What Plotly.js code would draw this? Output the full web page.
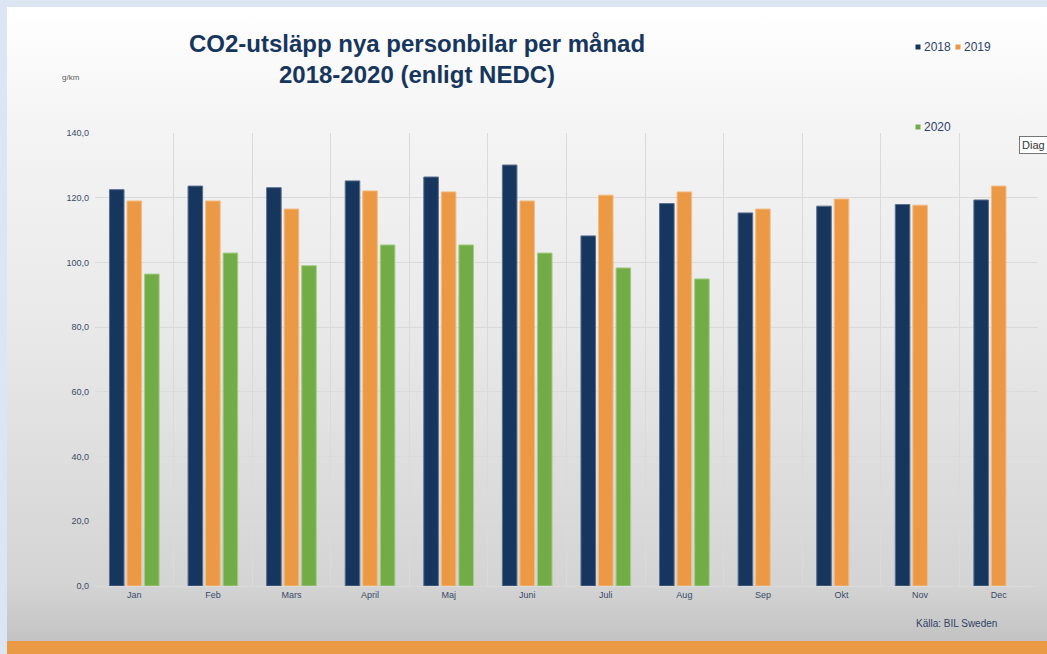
<!DOCTYPE html>
<html>
<head>
<meta charset="utf-8">
<script src="https://cdn.plot.ly/plotly-3.0.1.min.js"></script>
<style>
  html, body { margin: 0; padding: 0; width: 1047px; height: 654px; overflow: hidden; background: #dce6f2; }
  #card { position: absolute; left: 7px; top: 7px; width: 1040px; height: 634px;
    background: linear-gradient(to bottom, #ffffff 0%, #f4f4f4 19%, #e9e9e9 50%, #d4d4d4 91%, #c3c3c3 100%); }
  #strip { position: absolute; left: 7px; top: 641px; width: 1040px; height: 13px; background: #ea9945; }
  #chart { position: absolute; left: 0; top: 0; width: 1047px; height: 654px; }
</style>
</head>
<body>
<div id="card"></div>
<div id="strip"></div>
<div id="chart"></div>
<script>
const months = ['Jan', 'Feb', 'Mars', 'April', 'Maj', 'Juni', 'Juli', 'Aug', 'Sep', 'Okt', 'Nov', 'Dec'];
const values2018 = [122.5, 123.6, 123.1, 125.2, 126.4, 130.1, 108.2, 118.2, 115.3, 117.4, 117.9, 119.3];
const values2019 = [119.0, 119.0, 116.5, 122.1, 121.8, 119.0, 120.8, 121.8, 116.5, 119.6, 117.7, 123.6];
const values2020 = [96.4, 102.9, 99.0, 105.4, 105.4, 102.9, 98.3, 94.9, null, null, null, null];
const seriesNames = ['2018', '2019', '2020'];
const titleText = 'CO2-utsläpp nya personbilar per månad<br>2018-2020 (enligt NEDC)';
const yUnit = 'g/km';
const sourceText = 'Källa: BIL Sweden';
const tooltipText = 'Diag';

const colors = ['#17365d', '#eb9944', '#72ac47'];
const lineColors = ['#5a7090', '#f3bd85', '#a3cc85'];
const seriesValues = [values2018, values2019, values2020];

// plot area in pixels (for placing the decorative texts)
const L = 95, R = 1038, T = 133, B = 586;
const px = x => (x - L) / (R - L);
const py = y => (B - y) / (B - T);

const traces = seriesValues.map((vals, i) => ({
  type: 'bar', name: seriesNames[i], x: months, y: vals,
  marker: { color: colors[i], line: { color: lineColors[i], width: 1 } },
  showlegend: false, hoverinfo: 'x+y+name'
}));

// legend in the original's broken layout: swatch + label
const legendPos = [[918, 47], [958, 47], [918, 127]];
const shapes = [];
const annotations = [];
legendPos.forEach((p, i) => {
  shapes.push({ type: 'rect', xref: 'paper', yref: 'paper',
    x0: px(p[0] - 2.5), x1: px(p[0] + 2.5), y0: py(p[1] + 2.5), y1: py(p[1] - 2.5),
    fillcolor: colors[i], line: { width: 0 } });
  annotations.push({ text: seriesNames[i], xref: 'paper', yref: 'paper',
    x: px(p[0] + 4), y: py(p[1]), xanchor: 'left', yanchor: 'middle', showarrow: false,
    font: { size: 12, color: '#2f4266' } });
});
annotations.push(
  { text: yUnit, xref: 'paper', yref: 'paper', x: px(71), y: py(77), showarrow: false,
    xanchor: 'center', yanchor: 'middle', font: { size: 8, color: '#595959' } },
  { text: sourceText, xref: 'paper', yref: 'paper', x: px(956), y: py(623),
    xanchor: 'center', yanchor: 'middle', showarrow: false, font: { size: 10, color: '#2f4266' } },
  { text: tooltipText, xref: 'paper', yref: 'paper', x: px(1019), y: py(145),
    xanchor: 'left', yanchor: 'middle', showarrow: false, bgcolor: '#ffffff', bordercolor: '#767676',
    borderwidth: 1, borderpad: 2, font: { size: 11, color: '#333333' } }
);

const layout = {
  width: 1047, height: 654,
  paper_bgcolor: 'rgba(0,0,0,0)', plot_bgcolor: 'rgba(0,0,0,0)',
  margin: { l: L, r: 1047 - R, t: T, b: 654 - B, autoexpand: false },
  separators: ', ',
  barmode: 'group', bargap: 0.33, bargroupgap: 0.17,
  showlegend: false,
  font: { family: 'Arial, "Liberation Sans", sans-serif', color: '#3a4a66' },
  title: {
    text: titleText, xref: 'container', yref: 'container',
    x: 417 / 1047, xanchor: 'center', y: 1 - 52 / 654, yanchor: 'top',
    font: { family: 'Arial, "Liberation Sans", sans-serif', size: 24, color: '#17365d', weight: 'bold' }
  },
  xaxis: {
    type: 'category', tickson: 'boundaries', showgrid: true, gridcolor: '#dadada', gridwidth: 1,
    ticks: '', showline: true, linecolor: '#dadada', linewidth: 1,
    tickfont: { size: 9, color: '#3a4a66' }, fixedrange: true
  },
  yaxis: {
    range: [0, 140], dtick: 20, tickformat: '.1f', showgrid: true, gridcolor: '#dadada', gridwidth: 1,
    zeroline: true, zerolinecolor: '#dadada', zerolinewidth: 1, ticks: '', ticklabelstandoff: 5,
    tickfont: { size: 9, color: '#3a4a66' }, fixedrange: true
  },
  shapes: shapes,
  annotations: annotations
};

Plotly.newPlot('chart', traces, layout, { displayModeBar: false, responsive: false });
</script>
</body>
</html>
